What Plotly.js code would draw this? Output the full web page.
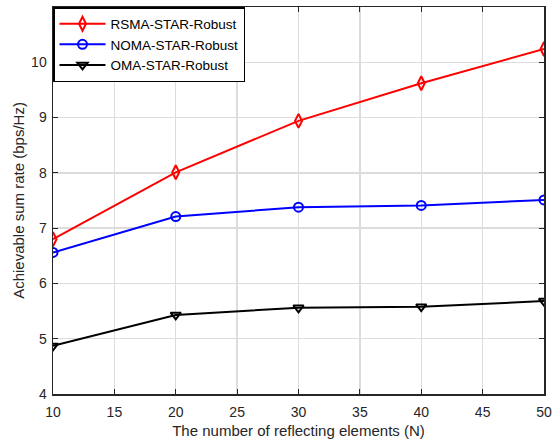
<!DOCTYPE html>
<html>
<head>
<meta charset="utf-8">
<script src="https://cdn.plot.ly/plotly-3.0.1.min.js"></script>
<style>html,body{margin:0;padding:0;background:#fff;}#chart{width:554px;height:446px;}</style>
</head>
<body>
<div id="chart"></div>
<script>
// Number of reflecting elements
const elements = [10, 20, 30, 40, 50];
// Achievable sum rate (bps/Hz) for each scheme
const rsmaRate = [6.80, 8.01, 8.94, 9.62, 10.24];
const nomaRate = [6.56, 7.21, 7.38, 7.41, 7.51];
const omaRate  = [4.87, 5.43, 5.56, 5.58, 5.68];
const seriesNames = ['RSMA-STAR-Robust', 'NOMA-STAR-Robust', 'OMA-STAR-Robust'];
const xTicks = [10, 15, 20, 25, 30, 35, 40, 45, 50];
const yTicks = [4, 5, 6, 7, 8, 9, 10, 11];

const axisColor = '#262626';
const family = 'Liberation Sans, Arial, sans-serif';
const tickFont = {family: family, size: 14, color: axisColor};
const titleFont = {family: family, size: 15, color: axisColor};

function series(y, name, color, symbol, size) {
  return {
    x: elements, y: y, name: name, type: 'scatter', mode: 'lines+markers',
    line: {color: color, width: 2},
    marker: {symbol: symbol, size: size, color: color, line: {color: color, width: 2}}
  };
}

const data = [
  series(rsmaRate, seriesNames[0], '#ff0000', 'diamond-tall-open', 10),
  series(nomaRate, seriesNames[1], '#0000ff', 'circle-open', 9),
  series(omaRate, seriesNames[2], '#000000', 'triangle-down-open', 9)
];

const axisBase = {
  showline: true, mirror: 'ticks', linecolor: axisColor, linewidth: 1.5,
  ticks: 'inside', ticklen: 5, tickcolor: axisColor, tickwidth: 1,
  showgrid: true, gridcolor: '#dcdcdc', gridwidth: 1.3,
  zeroline: false, tickfont: tickFont
};

const layout = {
  width: 554, height: 446,
  margin: {l: 53, r: 10, t: 7, b: 52},
  paper_bgcolor: '#fff', plot_bgcolor: '#fff',
  font: tickFont,
  showlegend: true,
  legend: {
    x: 0, y: 1, xanchor: 'left', yanchor: 'top',
    bgcolor: '#fff', bordercolor: '#000', borderwidth: 1.5,
    font: {family: family, size: 13.5, color: '#000'},
    tracegroupgap: 0, itemwidth: 46
  },
  xaxis: Object.assign({}, axisBase, {
    range: [10, 50], tickvals: xTicks, ticktext: xTicks.map(String),
    ticklabelstandoff: 5,
    title: {text: 'The number of reflecting elements (N)', font: titleFont, standoff: 6}
  }),
  yaxis: Object.assign({}, axisBase, {
    range: [4, 11], tickvals: yTicks, ticktext: yTicks.map(String),
    ticklabelstandoff: 2,
    title: {text: 'Achievable sum rate (bps/Hz)', font: titleFont, standoff: 3}
  })
};

Plotly.newPlot('chart', data, layout, {displayModeBar: false, staticPlot: true});
</script>
</body>
</html>
